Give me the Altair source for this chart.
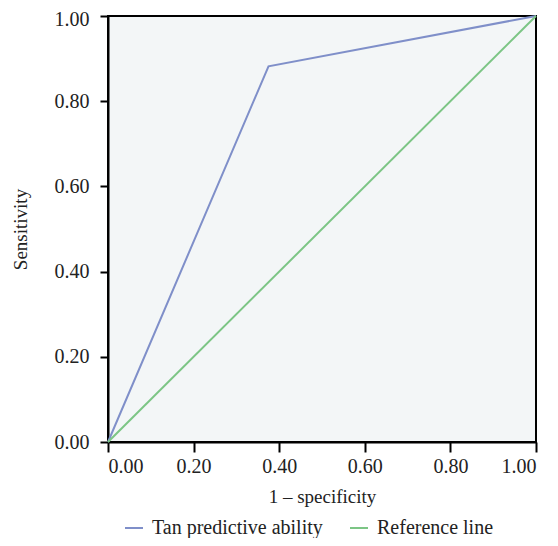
import altair as alt
import pandas as pd

series_names = ["Tan predictive ability", "Reference line"]
roc_x = [0.0, 0.375, 1.0]
roc_y = [0.0, 0.882, 1.0]
ref_x = [0.0, 1.0]
ref_y = [0.0, 1.0]
colors = ["#7f8fc9", "#7cc585"]
tick_values = [0, 0.2, 0.4, 0.6, 0.8, 1.0]

rows = []
for i, (a, b) in enumerate(zip(roc_x, roc_y)):
    rows.append({"series": series_names[0], "x": a, "y": b, "o": i})
for i, (a, b) in enumerate(zip(ref_x, ref_y)):
    rows.append({"series": series_names[1], "x": a, "y": b, "o": i})
df = pd.DataFrame(rows)

FONT = "Liberation Serif"

chart = alt.Chart(df).mark_line(strokeWidth=2).encode(
    x=alt.X("x:Q", scale=alt.Scale(domain=[0, 1], nice=False, zero=False),
            axis=alt.Axis(title="1 – specificity", values=tick_values,
                          format=".2f", grid=False, tickSize=10, tickWidth=2,
                          domainWidth=2, domainColor="black", tickColor="black",
                          labelPadding=4, titlePadding=11)),
    y=alt.Y("y:Q", scale=alt.Scale(domain=[0, 1], nice=False, zero=False),
            axis=alt.Axis(title="Sensitivity", values=tick_values,
                          format=".2f", grid=False, tickSize=8, tickWidth=2,
                          domainWidth=2, domainColor="black", tickColor="black",
                          labelPadding=11, titlePadding=24,
                          labelOffset={"condition": {"test": "datum.value == 1", "value": 3},
                                       "value": 0})),
    color=alt.Color("series:N", scale=alt.Scale(domain=series_names, range=colors),
                    sort=series_names,
                    legend=alt.Legend(title=None, orient="none", direction="horizontal",
                                      legendX=16, legendY=502, symbolType="stroke",
                                      symbolSize=324, symbolStrokeWidth=2,
                                      labelOffset=8, columnPadding=23, labelLimit=400)),
    order="o:Q",
).properties(
    width=428, height=426,
    autosize=alt.AutoSizeParams(type="none"),
    padding={"left": 100, "top": 8, "right": 14, "bottom": 96},
).configure_view(
    fill="#f3f6f7", stroke="black", strokeWidth=2
).configure_axis(
    labelFont=FONT, titleFont=FONT, labelFontSize=20, titleFontSize=19,
    labelColor="#222", titleColor="#222", titleFontWeight="normal"
).configure_legend(
    labelFont=FONT, labelFontSize=20, labelColor="#222"
)

chart.save("out.html", embed_options={"renderer": "svg", "actions": False})
